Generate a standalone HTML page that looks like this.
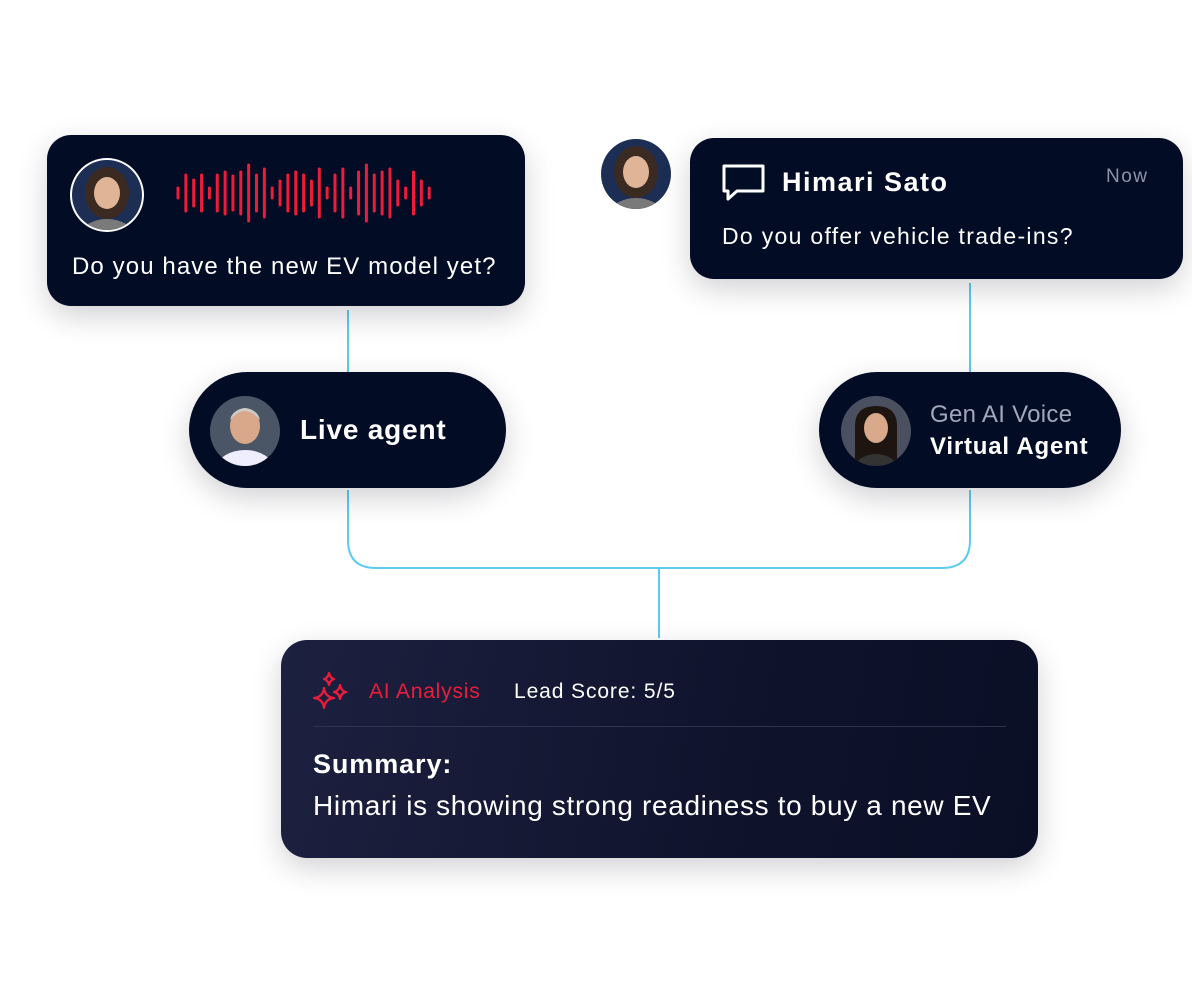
<!DOCTYPE html>
<html><head><meta charset="utf-8"><style>
*{margin:0;padding:0;box-sizing:border-box}
body{width:1192px;height:993px;background:#fff;position:relative;overflow:hidden;font-family:"Liberation Sans",sans-serif;color:#fff}
.card{position:absolute;background:#020c24;box-shadow:0 10px 30px rgba(0,0,20,.18)}
.t{position:absolute;white-space:nowrap}
</style></head><body>
<svg width="1192" height="993" style="position:absolute;left:0;top:0">
<g stroke="#5ccbf0" stroke-width="2" fill="none">
<path d="M348 310V372"/><path d="M970 283V372"/>
<path d="M348 490V540Q348 568 376 568H942Q970 568 970 540V490"/>
<path d="M659 568V638"/>
</g>
</svg>

<div class="card" style="left:47px;top:135px;width:478px;height:171px;border-radius:24px"></div>
<svg style="position:absolute;left:69px;top:157px" width="76" height="76"><defs><clipPath id="c1"><circle cx="38" cy="38" r="35"/></clipPath></defs>
<circle cx="38" cy="38" r="37" fill="#fff"/><g clip-path="url(#c1)"><rect width="76" height="76" fill="#1d2e55"/><ellipse cx="38" cy="36" rx="22" ry="26" fill="#3a2a22"/><ellipse cx="38" cy="36" rx="13" ry="16" fill="#e0b497"/><ellipse cx="38" cy="78" rx="26" ry="16" fill="#7a7a7a"/></g></svg>
<svg style="position:absolute;left:170px;top:160px" width="280" height="66" id="wave"><g stroke="#ed1c3a" stroke-width="3" stroke-linecap="round" id="wg"></g></svg>
<div class="t" style="left:72px;top:253px;font-size:24px;font-weight:500;letter-spacing:1.1px">Do you have the new EV model yet?</div>

<svg style="position:absolute;left:598px;top:136px" width="76" height="76"><defs><clipPath id="c2"><circle cx="38" cy="38" r="35"/></clipPath></defs>
<circle cx="38" cy="38" r="37" fill="#fff"/><g clip-path="url(#c2)"><rect width="76" height="76" fill="#1d2e55"/><ellipse cx="38" cy="36" rx="22" ry="26" fill="#3a2a22"/><ellipse cx="38" cy="36" rx="13" ry="16" fill="#e0b497"/><ellipse cx="38" cy="78" rx="26" ry="16" fill="#7a7a7a"/></g></svg>
<div class="card" style="left:690px;top:138px;width:493px;height:141px;border-radius:24px"></div>
<svg style="position:absolute;left:720px;top:163px" width="48" height="40"><path d="M4 3H43V28H17L8 36V28H4Z" fill="none" stroke="#fff" stroke-width="3" stroke-linejoin="round"/></svg>
<div class="t" style="left:782px;top:167px;font-size:27px;font-weight:bold;letter-spacing:1.5px">Himari Sato</div>
<div class="t" style="left:1106px;top:166px;font-size:19px;color:#8e93a8;letter-spacing:1.5px">Now</div>
<div class="t" style="left:722px;top:223px;font-size:23px;font-weight:500;letter-spacing:1.3px">Do you offer vehicle trade-ins?</div>

<div class="card" style="left:189px;top:372px;width:317px;height:116px;border-radius:58px"></div>
<svg style="position:absolute;left:210px;top:396px" width="70" height="70"><defs><clipPath id="c3"><circle cx="35" cy="35" r="35"/></clipPath></defs><g clip-path="url(#c3)"><rect width="70" height="70" fill="#4a5566"/><ellipse cx="35" cy="30" rx="15" ry="18" fill="#d9a88a"/><path d="M20 24Q35 6 50 24Q48 14 35 12Q22 14 20 24Z" fill="#ccc"/><ellipse cx="35" cy="72" rx="28" ry="18" fill="#eef"/></g></svg>
<div class="t" style="left:300px;top:414px;font-size:28px;font-weight:bold;letter-spacing:0.8px">Live agent</div>

<div class="card" style="left:819px;top:372px;width:302px;height:116px;border-radius:58px"></div>
<svg style="position:absolute;left:841px;top:396px" width="70" height="70"><defs><clipPath id="c4"><circle cx="35" cy="35" r="35"/></clipPath></defs><g clip-path="url(#c4)"><rect width="70" height="70" fill="#4a5060"/><path d="M14 70V30Q14 10 35 10Q56 10 56 30V70Z" fill="#1e1410"/><ellipse cx="35" cy="32" rx="12" ry="15" fill="#d8a98a"/><ellipse cx="35" cy="74" rx="22" ry="16" fill="#333"/></g></svg>
<div class="t" style="left:930px;top:401px;font-size:24px;color:#a3a7bb;letter-spacing:0.3px">Gen AI Voice</div>
<div class="t" style="left:930px;top:433px;font-size:24px;font-weight:bold;letter-spacing:0.8px">Virtual Agent</div>

<div class="card" style="left:281px;top:640px;width:757px;height:218px;border-radius:26px;background:linear-gradient(100deg,#1d2140 0%,#0f132c 60%,#0a0f26 100%)"></div>
<svg style="position:absolute;left:310px;top:670px" width="44" height="44" fill="none" stroke="#ed1c3a" stroke-width="2.2" stroke-linejoin="round">
<path d="M14 18Q15 27 24 28Q15 29 14 38Q13 29 4 28Q13 27 14 18Z"/>
<path d="M30 15Q31 21 36 22Q31 23 30 29Q29 23 24 22Q29 21 30 15Z"/>
<path d="M19 3Q20 8 24 9Q20 10 19 15Q18 10 14 9Q18 8 19 3Z"/></svg>
<div class="t" style="left:369px;top:680px;font-size:21px;color:#ed1c3a;letter-spacing:0.8px">AI Analysis</div>
<div class="t" style="left:514px;top:680px;font-size:21px;font-weight:500;letter-spacing:0.9px">Lead Score: 5/5</div>
<div style="position:absolute;left:313px;top:726px;width:693px;height:1px;background:#2e3350"></div>
<div class="t" style="left:313px;top:749px;font-size:27px;font-weight:bold;letter-spacing:0.9px">Summary:</div>
<div class="t" style="left:313px;top:790px;font-size:28px;letter-spacing:0.65px">Himari is showing strong readiness to buy a new EV</div>
<script>
var h=[10,36,26,36,10,36,42,34,42,56,36,48,10,24,36,42,36,24,48,10,36,48,10,42,56,36,42,48,24,10,42,24,10];
var g=document.getElementById('wg'),s='';
for(var i=0;i<h.length;i++){var x=8+i*7.85;s+='<line x1="'+x+'" x2="'+x+'" y1="'+(33-h[i]/2)+'" y2="'+(33+h[i]/2)+'"/>';}
g.innerHTML=s;
</script>
</body></html>
